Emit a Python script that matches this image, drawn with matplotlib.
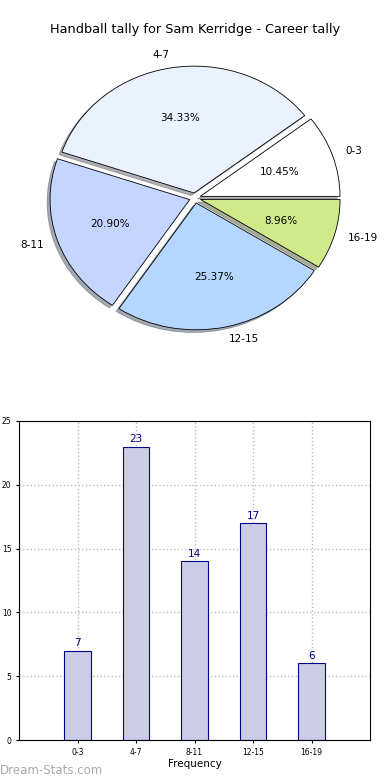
import matplotlib
matplotlib.use("Agg")
import matplotlib.pyplot as plt
import numpy as np

# datos
categorias = ["0-3", "4-7", "8-11", "12-15", "16-19"]
cantidades = [7, 23, 14, 17, 6]
colores = ["#ffffff", "#eaf1ff", "#c4d6ff", "#b4d6ff", "#d0ea8a"]
titulo = "Handball tally for Sam Kerridge - Career tally"

fig = plt.figure(figsize=(3.9, 7.8), dpi=100)
fig.patch.set_facecolor("white")

# torta (algo achatada, como en la original)
axPie = fig.add_axes([25/390, 412/780, 340/390, 340/780])
axPie.pie(cantidades, labels=categorias, colors=colores, autopct="%.2f%%",
          explode=[0.04]*len(cantidades),
          shadow={"ox": -0.015, "oy": -0.015, "shade": 0.6}, startangle=0,
          labeldistance=1.1, pctdistance=0.6,
          wedgeprops={"edgecolor": "black", "linewidth": 0.6},
          textprops={"fontsize": 7.5})
axPie.set_aspect("auto")
axPie.set_xlim(-1.217, 1.217)
axPie.set_ylim(-1.34, 1.34)
axPie.axis("off")
fig.text(0.5, 1 - 30/780, titulo, ha="center", va="center", fontsize=9.3)

# barras
axBar = fig.add_axes([19/390, 40/780, 351/390, 319/780])
x = np.arange(len(categorias))
axBar.bar(x, cantidades, width=0.45, color="#cccce6", edgecolor="#00008b",
          linewidth=0.8, zorder=2)
for xi, v in zip(x, cantidades):
    axBar.text(xi, v + 0.2, str(v), ha="center", va="bottom", color="#00008b", fontsize=7.5)
axBar.set_xlim(-1, 5)
axBar.set_ylim(0, 25)
axBar.set_xticks(x)
axBar.set_xticklabels(categorias)
axBar.set_yticks([0, 5, 10, 15, 20, 25])
axBar.tick_params(labelsize=5.5, length=2)
axBar.grid(True, linestyle=":", color="#bbbbbb", linewidth=1, zorder=0)
axBar.set_axisbelow(True)
axBar.set_xlabel("Frequency", fontsize=7.5, labelpad=2)
axBar.set_ylabel("Occurrences", fontsize=7.5, labelpad=4)

fig.text(0.0, 9/780, "Dream-Stats.com", color="#aaaaaa", fontsize=8.5,
         ha="left", va="center")

fig.savefig("out.png", dpi=100)
